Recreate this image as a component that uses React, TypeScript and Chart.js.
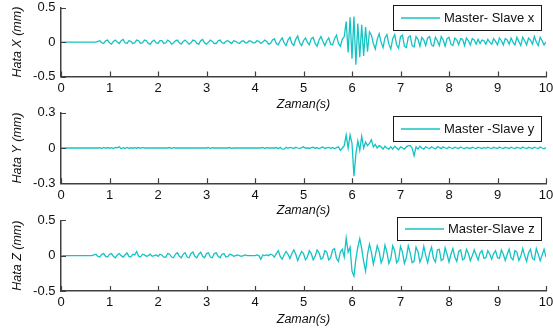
import { useEffect, useRef } from "react";
import { Chart, registerables } from "chart.js";

Chart.register(...registerables);

// ---------------- DATA ----------------
const TIME_STEP = 0.04; // s, sampling of the error signals
const time: number[] = Array.from({ length: 251 }, (_, i) => Math.round(i * TIME_STEP * 100) / 100);
const xTicks = [0, 1, 2, 3, 4, 5, 6, 7, 8, 9, 10];

const yTicksX = [-0.5, 0, 0.5];
const yTicksY = [-0.3, 0, 0.3];
const yTicksZ = [-0.5, 0, 0.5];

const seriesLabels = ["Master- Slave x", "Master -Slave y", "Master-Slave z"];
const yAxisTitles = ["Hata X (mm)", "Hata Y (mm)", "Hata Z (mm)"];
const xAxisTitle = "Zaman(s)";

// Hata X (mm)
const errX = [
  0, 0, 0, 0, 0, 0, 0, 0, 0, 0,
  0, 0, 0, 0, 0, 0, 0, 0, 0, 0.01,
  0.02, -0.01, -0.02, 0.02, 0.03, -0.01, -0.03, 0.01, 0.03, 0.0,
  -0.02, 0.02, 0.04, -0.01, -0.02, 0.02, 0.01, -0.02, -0.01, 0.03,
  0.02, -0.02, -0.01, 0.03, 0.02, -0.02, -0.03, 0.01, 0.03, -0.01,
  -0.02, 0.02, 0.02, -0.02, -0.01, 0.03, 0.01, -0.03, -0.01, 0.02,
  0.03, -0.01, -0.03, 0.01, 0.03, 0.0, -0.03, -0.01, 0.03, 0.02,
  -0.02, -0.03, 0.02, 0.04, -0.01, -0.03, 0.0, 0.03, 0.01, -0.02,
  -0.02, 0.02, 0.03, -0.01, -0.02, 0.01, 0.02, 0.0, -0.02, 0.02,
  0.01, -0.01, -0.02, 0.01, 0.02, -0.01, -0.01, 0.02, 0.01, -0.01,
  -0.01, 0.02, 0.01, -0.02, 0.0, 0.03, 0.01, -0.03, -0.02, 0.03,
  0.05, -0.02, -0.04, 0.02, 0.06, -0.01, -0.05, 0.03, 0.07, -0.02,
  -0.05, 0.04, 0.09, -0.01, -0.05, 0.02, 0.06, 0.0, -0.04, 0.05,
  0.07, -0.02, -0.06, 0.03, 0.08, 0.01, -0.05, 0.02, 0.06, -0.03,
  -0.04, 0.05, 0.1, -0.02, -0.06, 0.04, 0.08, 0.3, -0.15, 0.36,
  -0.24, 0.37, -0.33, 0.27, -0.22, 0.25, -0.2, 0.22, -0.14, 0.15,
  0.1, -0.02, -0.1, 0.04, 0.12, 0.0, -0.08, 0.06, 0.11, -0.03,
  -0.1, 0.05, 0.11, -0.04, -0.09, 0.08, 0.1, -0.06, -0.08, 0.07,
  0.09, -0.05, -0.07, 0.08, 0.04, -0.06, 0.07, 0.03, -0.05, 0.06,
  0.08, -0.04, -0.06, 0.07, 0.02, -0.05, 0.08, 0.03, -0.06, 0.05,
  0.07, -0.03, -0.05, 0.06, 0.03, -0.04, 0.05, 0.04, -0.05, 0.06,
  0.02, -0.04, 0.05, 0.03, -0.03, 0.04, -0.02, 0.03, 0.02, -0.03,
  0.04, 0.0, -0.03, 0.05, 0.01, -0.04, 0.06, 0.02, -0.04, 0.05,
  0.03, -0.03, 0.06, 0.0, -0.04, 0.07, 0.01, -0.05, 0.07, 0.02,
  -0.04, 0.06, 0.03, -0.03, 0.08, 0.0, -0.05, 0.07, 0.02, -0.04, 0.0,
];

// Hata Y (mm)
const errY = [
  0, 0, 0, 0, 0, 0, 0, 0, 0, 0,
  0, 0, 0, 0, 0, 0, 0, 0, 0, 0,
  0.003, -0.004, 0.005, -0.003, 0.004, -0.002, 0.003, -0.005, 0.004, 0.002,
  0.01, -0.006, 0.003, -0.004, 0.005, -0.003, 0.002, -0.002, 0.003, -0.002,
  0.004, -0.003, 0.005, 0, 0, 0, 0, 0, 0, 0,
  0, 0, 0, 0, 0, 0, 0.004, -0.003, 0.003, 0,
  0, 0, 0, 0, 0, 0, 0, 0, 0, 0,
  0, 0, 0, 0, 0, 0, 0.004, -0.004, 0.003, 0,
  0, 0, 0, 0, 0, 0, 0, 0.004, -0.003, 0,
  0, 0, 0, 0, 0, 0, 0, 0, 0, 0,
  0, 0, 0, 0, 0.004, -0.004, 0.003, 0, 0, 0,
  0, 0.004, -0.006, 0.005, -0.008, -0.01, 0.006, -0.003, 0.005, 0.002,
  -0.004, 0.006, 0, -0.005, 0.004, 0.01, -0.003, 0.002, -0.004, 0.003,
  0.006, -0.002, 0.004, -0.006, 0.003, 0.008, -0.004, 0.002, 0.005, -0.003,
  0.004, -0.006, 0.003, 0.01, -0.02, 0.0, 0.02, 0.11, 0.0, 0.11,
  0.04, -0.24, -0.05, 0.06, -0.02, 0.1, 0.0, 0.05, 0.02, 0.04,
  0.07, 0.01, 0.03, 0.0, 0.02, 0.01, -0.01, 0.015, 0.0, -0.01,
  0.01, -0.01, 0.015, 0.0, -0.015, 0.01, 0.0, -0.01, 0.01, 0.02,
  0.02, 0.0, -0.065, 0.01, -0.01, 0.015, 0.0, -0.01, 0.01, 0.0,
  -0.005, 0.01, 0.0, -0.008, 0.01, 0.005, -0.005, 0.01, 0.0, -0.005,
  0.008, 0.0, -0.005, 0.006, 0.0, -0.004, 0.008, 0.0, -0.005, 0.005,
  0.0, -0.004, 0.006, 0.0, -0.005, 0.007, 0.0, -0.004, 0.005, -0.002,
  0.006, 0.0, -0.005, 0.006, 0.0, -0.004, 0.008, 0.0, -0.005, 0.006,
  0.0, -0.004, 0.007, 0.0, -0.005, 0.006, 0.0, -0.004, 0.008, 0.0,
  -0.005, 0.006, 0.0, -0.004, 0.007, 0.0, -0.005, 0.008, 0.0, -0.006, 0.002,
];

// Hata Z (mm)
const errZ = [
  0, 0, 0, 0, 0, 0, 0, 0, 0, 0,
  0, 0, 0, 0, 0, 0, 0, 0.01, 0.02, -0.01,
  -0.02, 0.02, 0.03, -0.01, -0.02, 0.02, 0.03, -0.01, -0.03, 0.01,
  0.03, 0.0, -0.02, 0.01, 0.04, -0.01, -0.02, 0.02, 0.01, 0.06,
  -0.01, -0.02, 0.02, 0.01, -0.01, 0.0, 0.02, -0.01, 0.0, 0.01,
  -0.01, 0.02, 0.01, -0.02, -0.02, 0.03, 0.02, -0.02, -0.03, 0.02,
  0.04, -0.01, -0.03, 0.02, 0.04, -0.02, -0.03, 0.03, 0.05, -0.01,
  -0.03, 0.02, 0.05, -0.01, -0.03, 0.03, 0.04, -0.02, -0.03, 0.03,
  0.04, -0.01, -0.03, 0.02, 0.03, -0.02, -0.01, 0.02, 0.01, -0.01,
  0.0, 0.01, 0.0, -0.01, 0.0, 0.01, 0.0, 0.0, 0.0, 0.0,
  0.0, 0.01, 0.0, -0.05, 0.01, 0.0, 0.01, 0.0, 0.02, 0.01,
  -0.02, 0.03, 0.07, -0.01, -0.05, 0.01, 0.06, 0.02, -0.04, 0.03,
  0.08, 0.02, -0.07, 0.0, 0.06, 0.03, -0.06, -0.02, 0.07, 0.03,
  -0.06, -0.01, 0.08, 0.04, -0.05, -0.03, 0.07, 0.05, -0.06, -0.03,
  0.08, 0.1, -0.04, -0.08, 0.05, 0.09, -0.02, 0.25, 0.05, 0.12,
  -0.22, -0.29, -0.05, 0.12, 0.24, 0.1, -0.08, -0.22, 0.02, 0.16,
  0.05, -0.12, 0.0, 0.14, 0.06, -0.1, -0.03, 0.15, 0.05, -0.11,
  -0.04, 0.14, 0.07, -0.1, -0.06, 0.13, 0.05, -0.11, -0.03, 0.14,
  0.04, -0.1, -0.08, 0.12, 0.06, -0.09, -0.02, 0.13, 0.0, -0.1,
  0.04, 0.12, -0.04, -0.09, 0.08, 0.09, -0.07, -0.05, 0.11, 0.02,
  -0.09, 0.02, 0.1, -0.02, -0.08, 0.06, 0.08, -0.06, -0.04, 0.09,
  0.03, -0.07, 0.0, 0.08, 0.01, -0.06, 0.04, 0.07, -0.04, -0.03,
  0.07, 0.02, -0.05, 0.03, 0.07, -0.03, -0.04, 0.08, 0.02, -0.07,
  0.02, 0.09, -0.03, -0.06, 0.07, 0.05, -0.07, -0.01, 0.1, 0.0,
  -0.08, 0.04, 0.09, -0.04, -0.06, 0.1, 0.02, -0.07, 0.01, 0.09, -0.02,
];

// ---------------- STYLE / LAYOUT ----------------
const LINE_COLOR = "rgb(20,195,195)";
const AXIS_COLOR = "#404040";
const TEXT_COLOR = "#111111";
const FONT = "'Liberation Sans', Arial, sans-serif";
const WIDTH = 553;

type LegendBox = { x: number; y: number; w: number; h: number };
type PlotSpec = {
  values: number[];
  label: string;
  yTitle: string;
  yTicks: number[];
  top: number;
  height: number;
  padTop: number;
  xAxisH: number;
  legend: LegendBox;
};

const plots: PlotSpec[] = [
  { values: errX, label: seriesLabels[0], yTitle: yAxisTitles[0], yTicks: yTicksX, top: 0, height: 112, padTop: 7.7, xAxisH: 35.5, legend: { x: 393, y: 5, w: 148, h: 25 } },
  { values: errY, label: seriesLabels[1], yTitle: yAxisTitles[1], yTicks: yTicksY, top: 105, height: 113, padTop: 7.7, xAxisH: 34.7, legend: { x: 393, y: 11, w: 148, h: 25 } },
  { values: errZ, label: seriesLabels[2], yTitle: yAxisTitles[2], yTicks: yTicksZ, top: 213, height: 114, padTop: 7.3, xAxisH: 36, legend: { x: 397, y: 4, w: 144, h: 23 } },
];

const inwardTicks = {
  id: "inwardTicks",
  afterDraw(chart: any) {
    const { ctx, chartArea, scales } = chart;
    ctx.save();
    ctx.strokeStyle = AXIS_COLOR;
    ctx.lineWidth = 1.2;
    ctx.beginPath();
    for (const t of scales.x.ticks) {
      const px = Math.round(scales.x.getPixelForValue(t.value)) + 0.5;
      ctx.moveTo(px, chartArea.bottom);
      ctx.lineTo(px, chartArea.bottom - 5);
    }
    for (const t of scales.y.ticks) {
      const py = Math.round(scales.y.getPixelForValue(t.value)) + 0.5;
      ctx.moveTo(chartArea.left, py);
      ctx.lineTo(chartArea.left + 5, py);
    }
    ctx.stroke();
    ctx.restore();
  },
};

const boxLegend = {
  id: "boxLegend",
  afterDraw(chart: any, _args: any, opts: any) {
    const { ctx } = chart;
    const b: LegendBox = opts.box;
    const ds = chart.data.datasets[0];
    ctx.save();
    ctx.fillStyle = "#ffffff";
    ctx.fillRect(b.x, b.y, b.w, b.h);
    ctx.strokeStyle = "#1a1a1a";
    ctx.lineWidth = 1;
    ctx.strokeRect(Math.round(b.x) + 0.5, Math.round(b.y) + 0.5, b.w, b.h);
    const cy = b.y + b.h / 2 + 0.5;
    ctx.strokeStyle = ds.borderColor;
    ctx.lineWidth = 1.3;
    ctx.beginPath();
    ctx.moveTo(b.x + 8, cy);
    ctx.lineTo(b.x + 47, cy);
    ctx.stroke();
    ctx.fillStyle = TEXT_COLOR;
    ctx.font = `13px ${FONT}`;
    ctx.textBaseline = "middle";
    ctx.textAlign = "left";
    ctx.fillText(ds.label, b.x + 51, cy + 0.5);
    ctx.restore();
  },
};

function SubPlot({ spec }: { spec: PlotSpec }) {
  const ref = useRef<HTMLCanvasElement | null>(null);
  useEffect(() => {
    if (!ref.current) return;
    const yMin = spec.yTicks[0];
    const yMax = spec.yTicks[spec.yTicks.length - 1];
    const chart = new Chart(ref.current, {
      type: "line",
      data: {
        datasets: [
          {
            label: spec.label,
            data: spec.values.map((v, i) => ({ x: time[i], y: v })),
            borderColor: LINE_COLOR,
            borderWidth: 1.3,
            pointRadius: 0,
            tension: 0,
            fill: false,
          },
        ],
      },
      options: {
        animation: false,
        responsive: false,
        devicePixelRatio: 1,
        events: [],
        layout: { autoPadding: false, padding: { left: 0, right: 7, top: spec.padTop, bottom: 0 } },
        plugins: {
          legend: { display: false },
          tooltip: { enabled: false },
          boxLegend: { box: spec.legend },
        } as any,
        scales: {
          x: {
            type: "linear",
            min: 0,
            max: 10,
            afterBuildTicks: (s: any) => {
              s.ticks = xTicks.map((v) => ({ value: v }));
            },
            afterFit: (s: any) => {
              s.height = spec.xAxisH;
              s.paddingLeft = 0;
              s.paddingRight = 0;
            },
            grid: { display: false, drawTicks: false },
            border: { display: true, color: AXIS_COLOR, width: 1.5 },
            ticks: {
              color: TEXT_COLOR,
              font: { family: FONT, size: 13 },
              padding: 4,
              maxRotation: 0,
              autoSkip: false,
            },
            title: {
              display: true,
              text: xAxisTitle,
              color: TEXT_COLOR,
              font: { family: FONT, size: 12.5, style: "italic" },
              padding: { top: 0, bottom: 0 },
            },
          },
          y: {
            type: "linear",
            min: yMin,
            max: yMax,
            afterBuildTicks: (s: any) => {
              s.ticks = spec.yTicks.map((v) => ({ value: v }));
            },
            afterFit: (s: any) => {
              s.width = 61;
              s.paddingTop = 0;
              s.paddingBottom = 0;
            },
            grid: { display: false, drawTicks: false },
            border: { display: true, color: AXIS_COLOR, width: 1.5 },
            ticks: {
              color: TEXT_COLOR,
              font: { family: FONT, size: 13 },
              padding: 5.5,
            },
            title: {
              display: true,
              text: spec.yTitle,
              color: TEXT_COLOR,
              font: { family: FONT, size: 12.5, style: "italic" },
              padding: { top: 10, bottom: 0 },
            },
          },
        },
      },
      plugins: [inwardTicks, boxLegend],
    });
    return () => chart.destroy();
  }, [spec]);
  return (
    <canvas
      ref={ref}
      width={WIDTH}
      height={spec.height}
      style={{ position: "absolute", left: 0, top: spec.top, width: WIDTH, height: spec.height }}
    />
  );
}

export default function App() {
  return (
    <div style={{ position: "absolute", left: 0, top: 0, width: WIDTH, height: 333, background: "#ffffff", overflow: "hidden" }}>
      {plots.map((p) => (
        <SubPlot key={p.label} spec={p} />
      ))}
    </div>
  );
}
